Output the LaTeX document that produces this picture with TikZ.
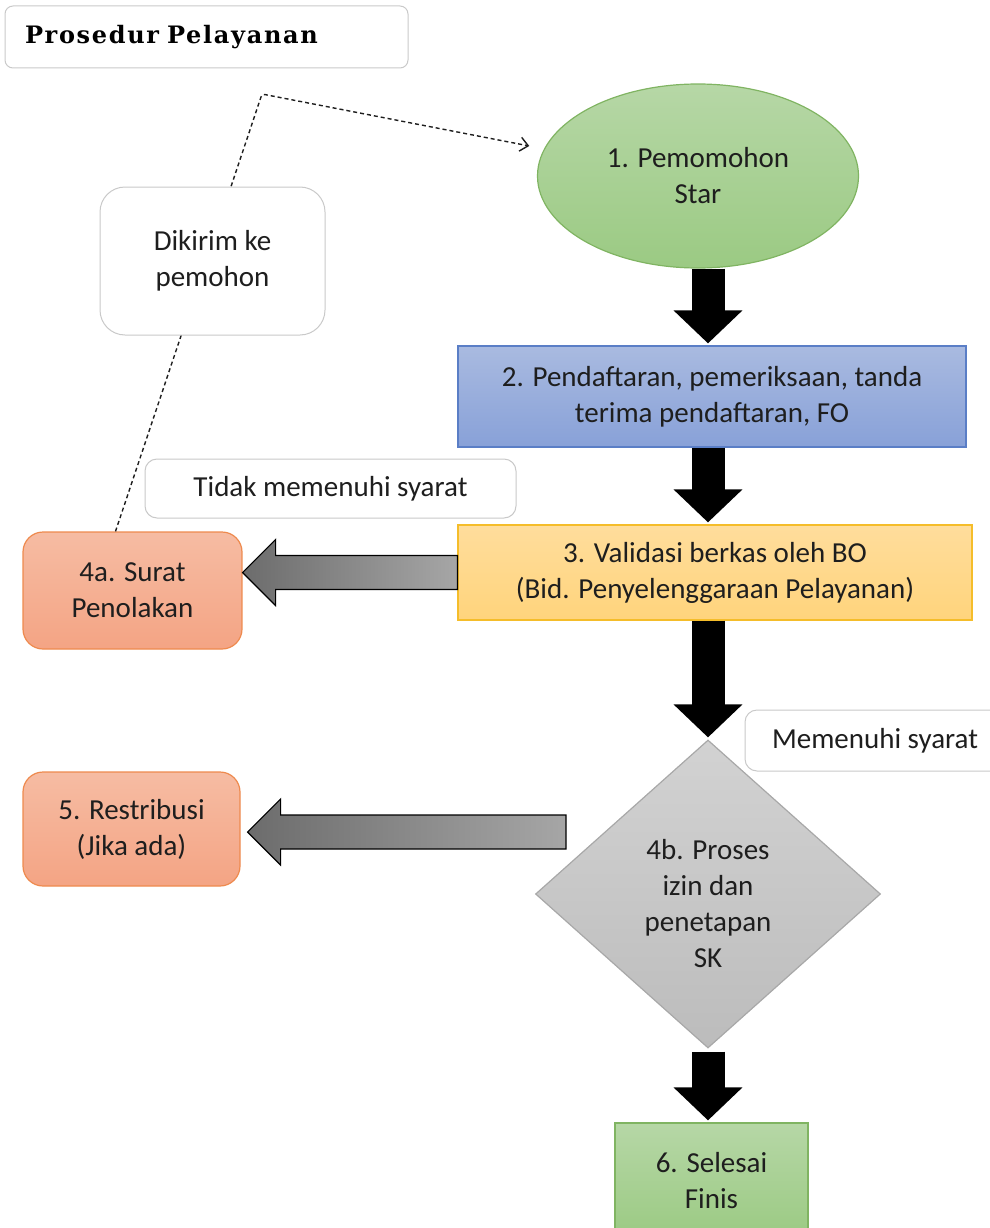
\documentclass[tikz,border=0pt]{standalone}
\usepackage{fontspec}
\setmainfont{Carlito}
\newfontfamily\titlefont[LetterSpace=7]{DejaVu Serif}
\usetikzlibrary{shapes.geometric,arrows.meta,calc}

\definecolor{txt}{HTML}{1E1E1E}
\definecolor{greentop}{HTML}{B6D7A6}
\definecolor{greenbot}{HTML}{9BCA83}
\definecolor{greenline}{HTML}{80B462}
\definecolor{bluetop}{HTML}{A9BAE0}
\definecolor{bluebot}{HTML}{88A1D8}
\definecolor{blueline}{HTML}{5A7EC6}
\definecolor{yellowtop}{HTML}{FFDD9C}
\definecolor{yellowbot}{HTML}{FFD47C}
\definecolor{yellowline}{HTML}{F5BD2A}
\definecolor{orangetop}{HTML}{F6BCA3}
\definecolor{orangebot}{HTML}{F4A484}
\definecolor{orangeline}{HTML}{EE8A4E}
\definecolor{greytop}{HTML}{D2D2D2}
\definecolor{greybot}{HTML}{BCBCBC}
\definecolor{greyline}{HTML}{A8A8A8}
\definecolor{labelline}{HTML}{C9C9C9}
\definecolor{shaftdark}{HTML}{6C6C6C}
\definecolor{shaftlight}{HTML}{A6A6A6}

\tikzset{
	base/.style={align=center, text=txt, font=\fontsize{29}{36}\selectfont, inner sep=0pt},
	startnode/.style={base, ellipse, top color=greentop, bottom color=greenbot, draw=greenline, line width=1.2pt},
	greenbox/.style={base, top color=greentop, bottom color=greenbot, draw=greenline, line width=1.2pt},
	bluebox/.style={base, top color=bluetop, bottom color=bluebot, draw=blueline, line width=1.2pt},
	yellowbox/.style={base, top color=yellowtop, bottom color=yellowbot, draw=yellowline, line width=1.2pt},
	orangebox/.style={base, rounded corners=20pt, top color=orangetop, bottom color=orangebot, draw=orangeline, line width=1.2pt},
	decision/.style={base, diamond, top color=greytop, bottom color=greybot, draw=greyline, line width=1.2pt},
	labelbox/.style={base, rounded corners=12pt, fill=white, draw=labelline, line width=1pt},
	titlebox/.style={rounded corners=8pt, draw=labelline, line width=1pt, minimum height=62pt, text width=363pt, inner xsep=20pt, align=left, font=\titlefont\bfseries\fontsize{24}{28}\selectfont},
	bigarrow/.style={line width=33pt, -{Triangle[width=67pt,length=33pt]}, shorten >=2pt},
	grayarrow/.style={left color=shaftdark, right color=shaftlight, draw=black, line width=1.2pt, line join=miter},
	sendline/.style={draw=txt, line width=1.4pt, dash pattern=on 4pt off 3pt, rounded corners=3pt, -{Straight Barb[length=8pt,width=14pt]}, shorten >=15pt}
}

% block arrow pointing left, from #1 (tail) to the x of #2 (tip)
\newcommand{\leftblock}[2]{%
	\draw[grayarrow] let \p1=(#1), \p2=(#2) in
		(\x1,\y1+17pt) -- (\x2+33pt,\y1+17pt) -- (\x2+33pt,\y1+33pt) -- (\x2,\y1)
		-- (\x2+33pt,\y1-33pt) -- (\x2+33pt,\y1-17pt) -- (\x1,\y1-17pt) -- cycle;}

\begin{document}
\begin{tikzpicture}[x=1pt,y=-1pt]
	\useasboundingbox (0,0) rectangle (989,1228);

	\node[titlebox] (title) at (206.5,37) {Prosedur Pelayanan};

	% main flow
	\node[startnode, minimum width=321pt, minimum height=184pt] (start) at (698,176) {1. Pemomohon\\Star};
	\node[bluebox, minimum width=508pt, minimum height=101pt] (reg) at (712,396.5) {2. Pendaftaran, pemeriksaan, tanda\\terima pendaftaran, FO};
	\node[yellowbox, minimum width=514pt, minimum height=95pt] (valid) at (715,572.5) {3. Validasi berkas oleh BO\\(Bid. Penyelenggaraan Pelayanan)};
	\node[decision, minimum width=345pt, minimum height=308pt, aspect=1.12] (proc) at (708,894) {\rule{0pt}{40pt}4b. Proses\\izin dan\\penetapan\\SK};
	\node[greenbox, minimum width=193pt, minimum height=115pt] (done) at (711.5,1180.5) {6. Selesai\\Finis};

	% side boxes
	\node[orangebox, minimum width=219pt, minimum height=117pt] (reject) at (132.5,590.5) {4a. Surat\\Penolakan};
	\node[orangebox, minimum width=217pt, minimum height=114pt] (fee) at (131.5,829) {5. Restribusi\\(Jika ada)};

	% back to the applicant
	\coordinate (bend) at (262,94);
	\draw[sendline] ([xshift=-17pt]reject.north) -- (bend) -- (start.170);
	\node[labelbox, rounded corners=25pt, minimum width=225pt, minimum height=148pt] (sent) at (212.5,261) {Dikirim ke\\pemohon};

	\node[labelbox, minimum width=371pt, minimum height=59pt] (nope) at (330.5,488.5) {Tidak memenuhi syarat};
	\node[labelbox, minimum width=260pt, minimum height=61pt] (okay) at (875,740.5) {Memenuhi syarat};

	% arrows
	\draw[bigarrow] (start.south -| proc.north) -- (reg.north -| proc.north);
	\draw[bigarrow] (reg.south -| proc.north) -- (valid.north -| proc.north);
	\draw[bigarrow] (valid.south -| proc.north) -- (proc.north);
	\draw[bigarrow] ([yshift=-3pt]proc.south) -- (done.north -| proc.south);

	\leftblock{valid.west}{reject.east}
	\coordinate (feetail) at (566,832);
	\leftblock{feetail}{[xshift=7pt]fee.east}
\end{tikzpicture}
\end{document}
